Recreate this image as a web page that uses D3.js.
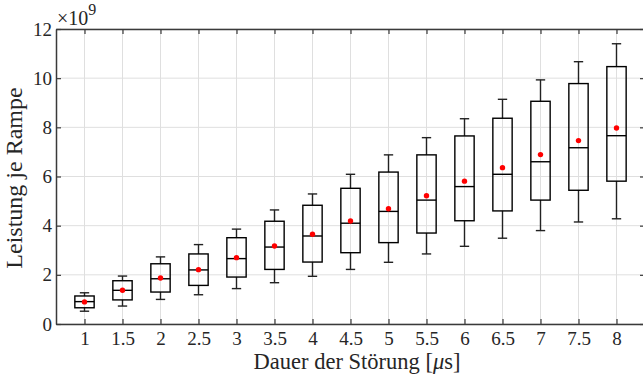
<!DOCTYPE html>
<html>
<head>
<meta charset="utf-8">
<script src="https://cdn.jsdelivr.net/npm/d3@7"></script>
<style>
  html, body { margin: 0; padding: 0; background: #fff; }
  svg { display: block; }
  text { font-family: "Liberation Serif", "DejaVu Serif", serif; fill: #262626; }
</style>
</head>
<body>
<svg id="chart" width="643" height="380"></svg>
<script>
// Values in units of 1e9
let kCategories  = ["1","1.5","2","2.5","3","3.5","4","4.5","5","5.5","6","6.5","7","7.5","8"];
let kWhiskerLow  = [0.52, 0.73, 1.00, 1.19, 1.44, 1.68, 1.94, 2.22, 2.51, 2.85, 3.16, 3.49, 3.80, 4.15, 4.28];
let kQ1          = [0.66, 0.98, 1.30, 1.57, 1.91, 2.22, 2.52, 2.90, 3.31, 3.70, 4.20, 4.60, 5.04, 5.44, 5.81];
let kMedian      = [0.91, 1.37, 1.84, 2.20, 2.66, 3.13, 3.58, 4.10, 4.58, 5.04, 5.59, 6.09, 6.60, 7.17, 7.66];
let kQ3          = [1.14, 1.76, 2.45, 2.85, 3.51, 4.18, 4.83, 5.52, 6.18, 6.88, 7.65, 8.37, 9.06, 9.78, 10.47];
let kWhiskerHigh = [1.27, 1.95, 2.73, 3.23, 3.86, 4.64, 5.29, 6.09, 6.88, 7.58, 8.35, 9.14, 9.93, 10.67, 11.40];
let kMean        = [0.90, 1.37, 1.87, 2.21, 2.70, 3.17, 3.65, 4.19, 4.69, 5.22, 5.81, 6.36, 6.89, 7.46, 7.97];
let kYTicks      = [0, 2, 4, 6, 8, 10, 12];

let kChart = { "left": 56, "right": 645, "top": 29, "bottom": 324 };

const svg = d3.select("#chart");

const x = d3.scaleLinear().domain([0.25, 15.75]).range([kChart.left, kChart.right]);
const y = d3.scaleLinear().domain([0, 12]).range([kChart.bottom, kChart.top]);

const positions = kCategories.map((c, i) => i + 1);
const boxHalf = 0.254;
const capHalf = 0.123;

// Grid
const grid = svg.append("g");
grid.selectAll(".gx").data(positions).enter().append("line")
  .attr("x1", d => x(d)).attr("x2", d => x(d))
  .attr("y1", kChart.top).attr("y2", kChart.bottom)
  .attr("stroke", "#dfdfdf").attr("stroke-width", 1);
grid.selectAll(".gy").data(kYTicks).enter().append("line")
  .attr("x1", kChart.left).attr("x2", kChart.right)
  .attr("y1", d => y(d)).attr("y2", d => y(d))
  .attr("stroke", "#dfdfdf").attr("stroke-width", 1);

// Boxes
const boxes = svg.append("g").selectAll("g").data(positions).enter().append("g");

boxes.append("line")
  .attr("x1", d => x(d)).attr("x2", d => x(d))
  .attr("y1", (d, i) => y(kQ3[i])).attr("y2", (d, i) => y(kWhiskerHigh[i]))
  .attr("stroke", "#222").attr("stroke-width", 1.4);
boxes.append("line")
  .attr("x1", d => x(d)).attr("x2", d => x(d))
  .attr("y1", (d, i) => y(kQ1[i])).attr("y2", (d, i) => y(kWhiskerLow[i]))
  .attr("stroke", "#222").attr("stroke-width", 1.4);
boxes.append("line")
  .attr("x1", d => x(d - capHalf)).attr("x2", d => x(d + capHalf))
  .attr("y1", (d, i) => y(kWhiskerHigh[i])).attr("y2", (d, i) => y(kWhiskerHigh[i]))
  .attr("stroke", "#222").attr("stroke-width", 1.4);
boxes.append("line")
  .attr("x1", d => x(d - capHalf)).attr("x2", d => x(d + capHalf))
  .attr("y1", (d, i) => y(kWhiskerLow[i])).attr("y2", (d, i) => y(kWhiskerLow[i]))
  .attr("stroke", "#222").attr("stroke-width", 1.4);
boxes.append("rect")
  .attr("x", d => x(d - boxHalf))
  .attr("width", d => x(d + boxHalf) - x(d - boxHalf))
  .attr("y", (d, i) => y(kQ3[i]))
  .attr("height", (d, i) => y(kQ1[i]) - y(kQ3[i]))
  .attr("fill", "none").attr("stroke", "#000").attr("stroke-width", 1.4);
boxes.append("line")
  .attr("x1", d => x(d - boxHalf)).attr("x2", d => x(d + boxHalf))
  .attr("y1", (d, i) => y(kMedian[i])).attr("y2", (d, i) => y(kMedian[i]))
  .attr("stroke", "#000").attr("stroke-width", 1.4);
boxes.append("circle")
  .attr("cx", d => x(d))
  .attr("cy", (d, i) => y(kMean[i]))
  .attr("r", 2.7)
  .attr("fill", "#ff0000");

// Axes
function styleAxis(g){
  g.select(".domain").attr("stroke", "#3a3a3a").attr("stroke-width", 1.5);
  g.selectAll(".tick line").attr("stroke", "#3a3a3a").attr("stroke-width", 1.2);
  g.selectAll(".tick text")
    .attr("fill", "#262626")
    .style("font-family", "'Liberation Serif', serif")
    .style("font-size", "19px");
}

const xAxis = d3.axisBottom(x).tickValues(positions)
  .tickFormat((d, i) => kCategories[i]).tickSizeInner(-5).tickSizeOuter(0).tickPadding(8);
svg.append("g").attr("transform", `translate(0,${kChart.bottom})`).call(xAxis).call(styleAxis);

const xAxisTop = d3.axisTop(x).tickValues(positions)
  .tickFormat("").tickSizeInner(-5).tickSizeOuter(0);
svg.append("g").attr("transform", `translate(0,${kChart.top})`).call(xAxisTop).call(styleAxis);

const yAxis = d3.axisLeft(y).tickValues(kYTicks)
  .tickSizeInner(-5).tickSizeOuter(0).tickPadding(4);
svg.append("g").attr("transform", `translate(${kChart.left},0)`).call(yAxis).call(styleAxis);

const yAxisRight = d3.axisRight(y).tickValues(kYTicks)
  .tickFormat("").tickSizeInner(-5).tickSizeOuter(0);
svg.append("g").attr("transform", `translate(${kChart.right},0)`).call(yAxisRight).call(styleAxis);

// Exponent label
const expo = svg.append("text")
  .attr("x", kChart.left + 1).attr("y", 25)
  .style("font-size", "20px");
expo.append("tspan").text("×10");
expo.append("tspan").attr("dy", -10).style("font-size", "16px").text("9");

// Axis titles
svg.append("text")
  .attr("x", 357).attr("y", 369)
  .attr("text-anchor", "middle")
  .style("font-size", "22.5px")
  .html("Dauer der Störung [<tspan font-style='italic'>μ</tspan>s]");

svg.append("text")
  .attr("transform", `translate(22,178) rotate(-90)`)
  .attr("text-anchor", "middle")
  .style("font-size", "24px")
  .text("Leistung je Rampe");
</script>
</body>
</html>
